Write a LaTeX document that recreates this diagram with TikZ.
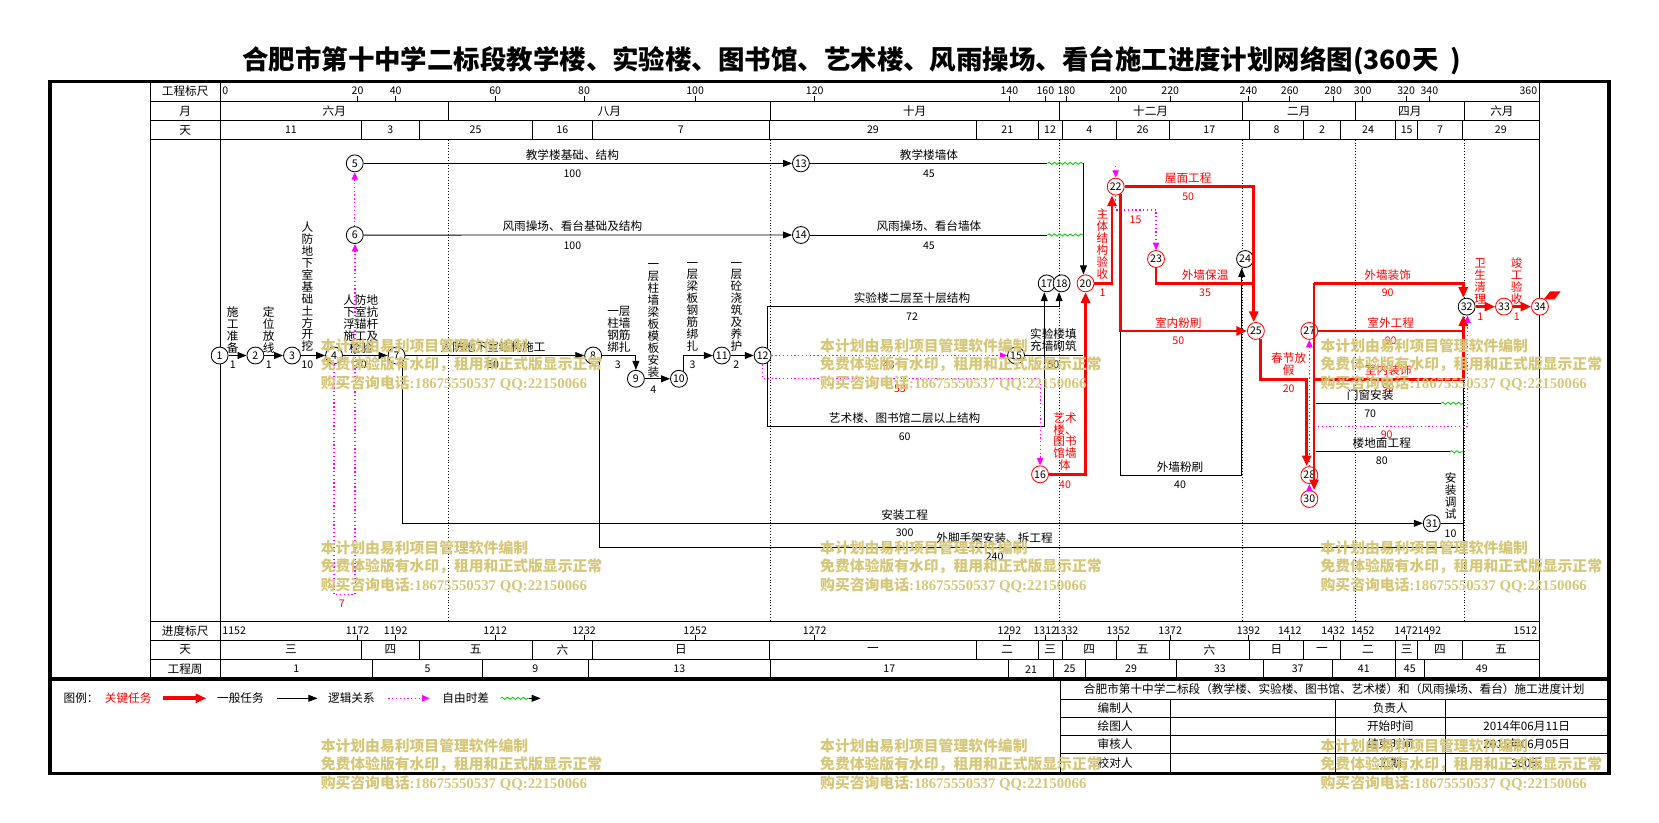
\documentclass[tikz,border=0pt]{standalone}
\usepackage{fontspec}
\setmainfont{Noto Sans CJK SC}
\newfontfamily\wzlat{Liberation Serif}
\usepackage{xcolor}
\usepackage{tikz}
\usetikzlibrary{arrows.meta}
\usetikzlibrary{decorations.pathmorphing}

\definecolor{kritrot}{RGB}{255,0,0}
\definecolor{freimag}{RGB}{255,0,255}
\definecolor{wellgruen}{RGB}{0,205,0}
\definecolor{wasserz}{RGB}{214,199,120}

\tikzset{
  knoten/.style={circle,draw,fill=white,line width=0.8pt,minimum size=16pt,inner sep=0pt,font=\fontsize{10}{10}\selectfont},
  kknoten/.style={knoten,draw=kritrot},
  txt/.style={inner sep=0pt,align=center,font=\fontsize{11}{11.3}\selectfont},
  rtxt/.style={txt,text=kritrot},
  ztxt/.style={inner sep=0pt,font=\fontsize{10}{10}\selectfont},
  rztxt/.style={ztxt,text=kritrot},
  linie/.style={line width=0.8pt},
  pfeil/.style={linie,-{Triangle[length=8.5pt,width=6.5pt]}},
  krit/.style={draw=kritrot,line width=2.6pt},
  kpfeil/.style={krit,-{Triangle[length=10pt,width=8.5pt]}},
  logik/.style={draw=freimag,line width=1pt,dash pattern=on 1.2pt off 2.4pt,-{Triangle[length=7pt,width=6pt]}},
  welle/.style={draw=wellgruen,line width=0.8pt,decorate,decoration={snake,amplitude=1pt,segment length=5pt}},
  raster/.style={line width=0.7pt,dotted},
  wz/.style={anchor=west,inner sep=0pt,text=wasserz,font=\bfseries\fontsize{14}{14}\selectfont}
}

\begin{document}
\begin{tikzpicture}[x=1pt,y=-1pt]
\useasboundingbox (0,0) rectangle (1568,777);

\node[inner sep=0pt,font=\bfseries\fontsize{25}{25}\selectfont] (titel) at (805,57) {合肥市第十中学二标段教学楼、实验楼、图书馆、艺术楼、风雨操场、看台施工进度计划网络图(360天\ \ )}; % Titel

% Rahmen und Tabelle
\draw[line width=3.5pt] (47,77) rectangle (1521,731);                 % Rahmen
\draw[line width=3.5pt] (47,642) -- (1521,642);                         % Trennlinie Legende
\draw[linie] (142,77) -- (142,642);                                      % Spalte links
\draw[linie] (208,77) -- (208,642);                                      % Spalte Beschriftung
\draw[linie] (1455,77) -- (1455,642);                                    % Spalte rechts
\foreach \y in {96,114,132,587,605,623} \draw[linie] (142,\y) -- (1455,\y);

\node[txt] (k1) at (175,86.5) {工程标尺};
\node[txt] (k2) at (175,105) {月};
\node[txt] (k3) at (175,123) {天};
\node[txt] (k4) at (175,596) {进度标尺};
\node[txt] (k5) at (175,614) {天};
\node[txt] (k6) at (175,632.5) {工程周};

% Zeitskala oben und unten
\node[ztxt,anchor=west] (s0) at (210,86) {0};
\node[ztxt,anchor=east] (s360) at (1453,86) {360};
\node[ztxt,anchor=west] (s1152) at (210,596) {1152};
\node[ztxt,anchor=east] (s1512) at (1453,596) {1512};
\foreach \x/\a/\b in {338/20/1172,374/40/1192,468/60/1212,552/80/1232,657/100/1252,770/120/1272,954/140/1292,988/160/1312,1008/180/1332,1057/200/1352,1106/220/1372,1180/240/1392,1219/260/1412,1260/280/1432,1288/300/1452,1329/320/1472,1351/340/1492}{
  \draw[linie] (\x,91) -- (\x,96);
  \draw[linie] (\x,600) -- (\x,605);
  \node[ztxt] (s\a) at (\x,86) {\a};
  \node[ztxt] (s\b) at (\x,596) {\b};
}

% Monate
\foreach \a/\b/\t in {208/424/六月,424/728/八月,728/1001/十月,1001/1174/十二月,1174/1281/二月,1281/1384/四月,1384/1455/六月}{
  \draw[linie] (\b,96) -- (\b,114);
  \node[txt] (mo\b) at ({(\a+\b)/2},105) {\t};
}
% Tage und Wochentage
\foreach \a/\b/\t/\w in {208/342/11/三,342/396/3/四,396/503/25/五,503/560/16/六,560/727/7/日,727/923/29/一,923/981/21/二,981/1004/12/三,1004/1055/4/四,1055/1105/26/五,1105/1181/17/六,1181/1232/8/日,1232/1267/2/一,1267/1319/24/二,1319/1340/15/三,1340/1382/7/四,1382/1455/29/五}{
  \draw[linie] (\b,114) -- (\b,132);
  \draw[linie] (\b,605) -- (\b,623);
  \node[ztxt] (ta\b) at ({(\a+\b)/2},123) {\t};
  \node[txt] (wt\b) at ({(\a+\b)/2},614) {\w};
}
% Wochen
\foreach \a/\b/\t in {208/352/1,352/456/5,456/556/9,556/728/13,728/953/17,953/996/21,996/1026/25,1026/1112/29,1112/1194/33,1194/1259/37,1259/1319/41,1319/1346/45,1346/1455/49}{
  \draw[linie] (\b,623) -- (\b,642);
  \node[ztxt] (wo\b) at ({(\a+\b)/2},632.5) {\t};
}
\foreach \x in {424,728,1001,1174,1281,1384} \draw[raster] (\x,132) -- (\x,587); % Monatsraster

% Knoten
\node[knoten] (n1) at (207.6,336) {1};
\node[knoten] (n2) at (241.4,336) {2};
\node[knoten] (n3) at (276,336) {3};
\node[knoten] (n4) at (315.7,336) {4};
\node[knoten] (n5) at (335.3,154.4) {5};
\node[knoten] (n6) at (335.3,222.2) {6};
\node[knoten] (n7) at (374.8,336) {7};
\node[knoten] (n8) at (560.6,336) {8};
\node[knoten] (n9) at (601,358) {9};
\node[knoten] (n10) at (641.7,358) {10};
\node[knoten] (n11) at (682.2,336) {11};
\node[knoten] (n12) at (720.8,336) {12};
\node[knoten] (n13) at (757,154.4) {13};
\node[knoten] (n14) at (757,222.1) {14};
\node[knoten] (n15) at (960.3,336) {15};
\node[kknoten] (n16) at (983,448.3) {16};
\node[knoten] (n17) at (989.3,267.8) {17};
\node[knoten] (n18) at (1003.4,267.8) {18};
\node[kknoten] (n20) at (1026,267.8) {20};
\node[kknoten] (n22) at (1054.5,176.4) {22};
\node[kknoten] (n23) at (1092.6,244.8) {23};
\node[knoten] (n24) at (1176.7,244.8) {24};
\node[kknoten] (n25) at (1187,312.8) {25};
\node[kknoten] (n27) at (1237.5,312.8) {27};
\node[kknoten] (n28) at (1237.5,449) {28};
\node[kknoten] (n30) at (1237.5,471.6) {30};
\node[knoten] (n31) at (1353.2,494.6) {31};
\node[knoten] (n32) at (1386.2,289.8) {32};
\node[kknoten] (n33) at (1421.5,289.8) {33};
\node[kknoten] (n34) at (1455.5,289.8) {34};

% Hilfspunkte
\coordinate (k4a) at (315.7,562);
\coordinate (k4b) at (335.5,562);
\coordinate (w1a) at (990,154.4);
\coordinate (w1b) at (1024,154.4);
\coordinate (w2a) at (990,222.1);
\coordinate (w2b) at (1024,222.1);
\coordinate (k72) at (1001,290);
\coordinate (k60) at (987,403.3);
\coordinate (k53a) at (720.8,357.6);
\coordinate (k53b) at (983,357.6);
\coordinate (k15) at (1024,336);
\coordinate (k20) at (1051,267.8);
\coordinate (m22) at (1054.5,157);
\coordinate (k23a) at (1054.5,198.5);
\coordinate (k23b) at (1092.6,198.5);
\coordinate (k23c) at (1185,267.8);
\coordinate (k22a) at (1185,176.4);
\coordinate (k22c) at (1058.5,312.8);
\coordinate (k24) at (1173.6,449);
\coordinate (k25) at (1235,358.5);
\coordinate (k30a) at (1242,267.8);
\coordinate (k30b) at (1242,358.5);
\coordinate (k30c) at (1244,381.2);
\coordinate (k30d) at (1362,381.2);
\coordinate (k30e) at (1383,381.2);
\coordinate (k30f) at (1244,427);
\coordinate (k30g) at (1370.5,427);
\coordinate (k30h) at (1383,427);
\coordinate (k30i) at (1242,403.2);
\coordinate (k31) at (1383,494.6);
\coordinate (k32a) at (1383,267.8);
\coordinate (k32b) at (1383,312.8);
\coordinate (k32c) at (1383,358.5);
\coordinate (k32d) at (1387,403.2);
\coordinate (k32e) at (1383,517);

% allgemeine Arbeiten
\draw[pfeil] (n1) -- (n2);                                                % Arbeit 1-2
\node[txt] (b1) at (220,312) {施\\工\\准\\备};
\node[ztxt] (z1) at (220,345) {1};
\draw[pfeil] (n2) -- (n3);                                                % Arbeit 2-3
\node[txt] (b2) at (254,312) {定\\位\\放\\线};
\node[ztxt] (z2) at (254,345) {1};
\draw[pfeil] (n3) -- (n4);                                                % Arbeit 3-4
\node[txt] (b3) at (290.5,271) {人\\防\\地\\下\\室\\基\\础\\土\\方\\开\\挖};
\node[ztxt] (z3) at (290.5,345) {10};
\draw[pfeil] (n4) -- (n7);                                                % Arbeit 4-7
\node[txt] (b4) at (341,306) {人防地\\下室抗\\浮锚杆\\施工及\\检验};
\node[ztxt] (z4) at (341,345) {30};
\draw[pfeil] (n7) -- (n8);                                                % Arbeit 7-8
\node[txt] (b7) at (466,328) {人防地下室结构施工};
\node[ztxt] (z7) at (466,345) {50};
\draw[pfeil] (n7.-45) |- (n31);                                           % Arbeit 7-31
\node[txt] (b31) at (855,486.5) {安装工程};
\node[ztxt] (z31) at (855,503.5) {300};
\draw[linie] (n8.-45) |- (k32e);                                          % Arbeit 8-32
\node[txt] (b8) at (940,509) {外脚手架安装、拆工程};
\node[ztxt] (z8) at (940,526) {240};
\draw[pfeil] (n8) -| (n9);                                                % Arbeit 8-9
\node[txt] (b8b) at (585,311) {一层\\柱墙\\钢筋\\绑扎};
\node[ztxt] (z8b) at (584,345) {3};
\draw[pfeil] (n9) -- (n10);                                               % Arbeit 9-10
\node[txt] (b9) at (617.5,303) {一\\层\\柱\\墙\\梁\\板\\模\\板\\安\\装};
\node[ztxt] (z9) at (617.5,368) {4};
\draw[pfeil] (n10.60) |- (n11);                                           % Arbeit 10-11
\node[txt] (b10) at (654.5,290) {一\\层\\梁\\板\\钢\\筋\\绑\\扎};
\node[ztxt] (z10) at (654.5,345) {3};
\draw[pfeil] (n11) -- (n12);                                              % Arbeit 11-12
\node[txt] (b11) at (696,290) {一\\层\\砼\\浇\\筑\\及\\养\\护};
\node[ztxt] (z11) at (696,345) {2};
\draw[pfeil] (n5) -- (n13);                                               % Arbeit 5-13
\node[txt] (b5) at (541,146.5) {教学楼基础、结构};
\node[ztxt] (z5) at (541,164) {100};
\draw[pfeil] (n6) -- (n14);                                               % Arbeit 6-14
\node[txt] (b6) at (541,214) {风雨操场、看台基础及结构};
\node[ztxt] (z6) at (541,232) {100};
\draw[linie] (n13) -- (w1a);                                              % Arbeit 13-20
\draw[welle] (w1a) -- (w1b);
\draw[pfeil] (w1b) -- (w1b |- n20.north);
\node[txt] (b13) at (878,146.5) {教学楼墙体};
\node[ztxt] (z13) at (878,164) {45};
\draw[linie] (n14) -- (w2a);                                              % Arbeit 14-20
\draw[welle] (w2a) -- (w2b);
\node[txt] (b14) at (878,214) {风雨操场、看台墙体};
\node[ztxt] (z14) at (878,232) {45};
\draw[pfeil] (n12.60) |- (k72) -- (k72 |- n18.south);                    % Arbeit 12-18
\node[txt] (b12a) at (862,282) {实验楼二层至十层结构};
\node[ztxt] (z12a) at (862,299) {72};
\draw[pfeil] (n12.-60) |- (k60) -- (k60 |- n17.south);                   % Arbeit 12-17
\node[txt] (b12b) at (855,395.5) {艺术楼、图书馆二层以上结构};
\node[ztxt] (z12b) at (855,413) {60};
\draw[linie] (n15) -- (k15);                                              % Arbeit 15-20
\node[txt] (b15) at (995.6,321.4) {实验楼填\\充墙砌筑};
\node[ztxt] (z15) at (995.6,345) {50};
\draw[pfeil] (k22c) |- (k24) -- (k24 |- n24.south);                      % Arbeit 22-24
\node[txt] (b22c) at (1115.3,441) {外墙粉刷};
\node[ztxt] (z22c) at (1115.3,458) {40};
\draw[linie] (k30c) -- (k30d);                                            % Arbeit Tueren
\draw[welle] (k30d) -- (k30e);
\node[txt] (b30c) at (1295,373.3) {门窗安装};
\node[ztxt] (z30c) at (1295,390.6) {70};
\draw[linie] (k30f) -- (k30g);                                            % Arbeit Boden
\draw[welle] (k30g) -- (k30h);
\node[txt] (b30d) at (1306,418.4) {楼地面工程};
\node[ztxt] (z30d) at (1306,435.4) {80};
\draw[linie] (k32e) -- (k32c);                                            % Sammellinie 32
\draw[linie] (n31) -- (k31);                                              % Arbeit 31-32
\node[txt] (b31b) at (1371,468.5) {安\\装\\调\\试};
\node[ztxt] (z31b) at (1371,504) {10};

% Logik und freie Puffer
\draw[logik] (n4) -- (k4a) -- (k4b) -- (k4b |- n6.south);               % 4-6
\draw[logik] (n6) -- (n5);                                                % 6-5
\node[rztxt] (f4) at (323,571) {7};
\draw[logik] (n12) -- (n15);                                              % 12-15
\node[rztxt] (f12a) at (840,345) {43};
\draw[logik] (n12) -- (k53a) -- (k53b) -- (n16);                          % 12-16
\node[rztxt] (f12b) at (850.6,367) {53};
\draw[logik] (m22) -- (n22);
\draw[logik] (n22) -- (k23a) -- (k23b) -- (n23);                          % 22-23
\node[rztxt] (f22) at (1073.3,208) {15};
\draw[logik] (k30i) -- (k32d) -- (k32d |- n32.south);                    % Puffer 90
\node[rztxt] (f30) at (1310.6,411) {90};
\draw[logik] (n28) -- (n27);
\draw[logik] (n30) -- (n28);

% kritischer Weg
\draw[kpfeil] (n16) -| (n20);                                             % Arbeit 16-20
\node[rtxt] (b16) at (1006.6,417.3) {艺术\\楼、\\图书\\馆墙\\体};
\node[rztxt] (z16) at (1006.6,458.4) {40};
\draw[kpfeil] (n20) -- (k20) -- (k20 |- n22.south);                      % Arbeit 20-22
\node[rtxt] (b20) at (1042,230.5) {主\\体\\结\\构\\验\\收};
\node[rztxt] (z20) at (1042,277) {1};
\draw[kpfeil] (n22) -- (k22a) -- (k22a |- n25.north);                    % Arbeit 22-25 Dach
\node[rtxt] (b22a) at (1123,168.5) {屋面工程};
\node[rztxt] (z22a) at (1123,186) {50};
\draw[kpfeil] (n22.-60) |- (n25);                                         % Arbeit 22-25 innen
\node[rtxt] (b22b) at (1113.7,305) {室内粉刷};
\node[rztxt] (z22b) at (1113.7,322) {50};
\draw[krit] (n23) |- (k23c);                                              % Arbeit 23-25
\node[rtxt] (b23) at (1139,260) {外墙保温};
\node[rztxt] (z23) at (1139,277) {35};
\draw[kpfeil] (n25.-60) |- (k25) -- (k25 |- n28.north);                  % Arbeit 25-28
\node[rtxt] (b25) at (1218,344.2) {春节放\\假};
\node[rztxt] (z25) at (1218,367.7) {20};
\draw[kpfeil] (k30a) -- (k30a |- n30.north);
\draw[kpfeil] (k30a) -- (k32a) -- (k32a |- n32.north);                   % Arbeit Fassade
\node[rtxt] (b30a) at (1311.6,260) {外墙装饰};
\node[rztxt] (z30a) at (1311.6,277) {90};
\draw[krit] (n27) -- (k32b);                                              % Arbeit 27-32
\node[rtxt] (b27) at (1314.4,305) {室外工程};
\node[rztxt] (z27) at (1314.4,322) {90};
\draw[krit] (k30b) -- (k32c);                                             % Arbeit innen
\draw[kpfeil] (k32c) -- (k32c |- n32.south);
\node[rtxt] (b30b) at (1312,349.7) {室内装饰};
\node[rztxt] (z30b) at (1312,366.6) {90};
\draw[kpfeil] (n32) -- (n33);                                             % Arbeit 32-33
\node[rtxt] (b32) at (1399,265.5) {卫\\生\\清\\理};
\node[rztxt] (z32) at (1399,299) {1};
\draw[kpfeil] (n33) -- (n34);                                             % Arbeit 33-34
\node[rtxt] (b33) at (1433.5,265.5) {竣\\工\\验\\收};
\node[rztxt] (z33) at (1433.5,299) {1};
\fill[kritrot] (1459,283) -- (1465,275.5) -- (1475,275.5) -- (1469,283) -- cycle; % Fahne

% Legende
\node[txt,anchor=west] (lg0) at (60,660) {图例：};
\node[rtxt,anchor=west] (lg1) at (99,660) {关键任务};
\coordinate (la1) at (154,660);
\coordinate (la2) at (195,660);
\draw[kpfeil,line width=3.5pt] (la1) -- (la2);
\node[txt,anchor=west] (lg2) at (205,660) {一般任务};
\coordinate (lb1) at (262,660);
\coordinate (lb2) at (300,660);
\draw[pfeil] (lb1) -- (lb2);
\node[txt,anchor=west] (lg3) at (310,660) {逻辑关系};
\coordinate (lc1) at (367,660);
\coordinate (lc2) at (406,660);
\draw[logik] (lc1) -- (lc2);
\node[txt,anchor=west] (lg4) at (418,660) {自由时差};
\coordinate (ld1) at (473,660);
\coordinate (ld2) at (500,660);
\coordinate (ld3) at (511,660);
\draw[welle] (ld1) -- (ld2);
\draw[pfeil] (ld2) -- (ld3);

% Schriftfeld
\draw[linie] (1002,642) -- (1002,731);
\foreach \y in {661,678,695,712} \draw[linie] (1002,\y) -- (1521,\y);
\foreach \x in {1106,1262,1366} \draw[linie] (\x,661) -- (\x,731);
\node[txt] (sf0) at (1261,651.5) {合肥市第十中学二标段（教学楼、实验楼、图书馆、艺术楼）和（风雨操场、看台）施工进度计划};
\node[txt] (sf1) at (1054,669.5) {编制人};
\node[txt] (sf2) at (1054,686.5) {绘图人};
\node[txt] (sf3) at (1054,703.5) {审核人};
\node[txt] (sf4) at (1054,721.5) {校对人};
\node[txt] (sf5) at (1314,669.5) {负责人};
\node[txt] (sf6) at (1314,686.5) {开始时间};
\node[txt] (sf7) at (1314,703.5) {结束时间};
\node[txt] (sf8) at (1314,721.5) {工期};
\node[txt] (sf9) at (1443,686.5) {2014年06月11日};
\node[txt] (sf10) at (1443,703.5) {2015年06月05日};
\node[txt] (sf11) at (1443,721.5) {360天};

% Wasserzeichen
\foreach \x/\y in {303/327,775/327,1248/327,303/518,775/518,1248/518,303/705,775/705,1248/705}{
  \node[wz] (wa) at (\x,\y) {本计划由易利项目管理软件编制};
  \node[wz] (wb) at (\x,{\y+17.5}) {免费体验版有水印，租用和正式版显示正常};
  \node[wz] (wc) at (\x,{\y+35}) {购买咨询电话{\wzlat :18675550537 QQ:22150066}};
}

\end{tikzpicture}
\end{document}
